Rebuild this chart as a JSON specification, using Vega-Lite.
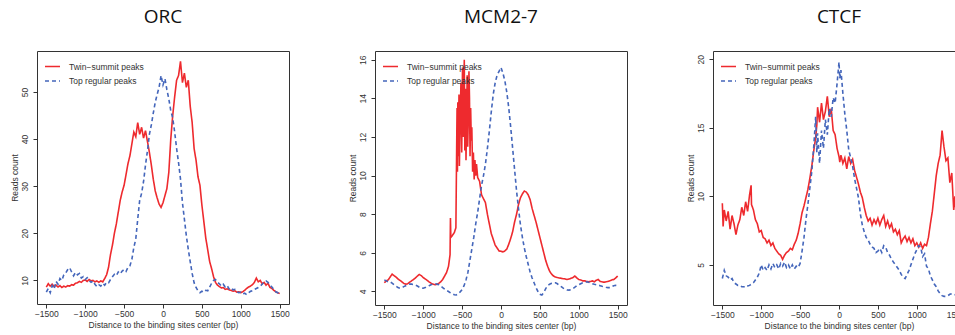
{
"$schema": "https://vega.github.io/schema/vega-lite/v6.json",
"padding": {"left": 9, "top": 7, "right": 0, "bottom": 0},
"spacing": 57,
"config": {
 "view": {"stroke": "#333", "strokeWidth": 1},
 "font": "Liberation Sans",
 "axis": {"domain": false, "grid": false, "tickColor": "#333", "tickSize": 4, "tickWidth": 1, "labelFont": "Liberation Sans", "labelFontSize": 8.5, "labelColor": "#333", "titleFont": "Liberation Sans", "titleFontSize": 8.5, "titleFontWeight": "normal", "titleColor": "#333", "labelFlush": false},
 "axisX": {"labelPadding": 1, "titlePadding": 3, "format": "d"},
 "axisY": {"labelAngle": -90, "labelAlign": "center", "labelBaseline": "bottom", "labelPadding": 4, "titlePadding": 1},
 "title": {"font": "Open Sans", "fontSize": 19, "fontWeight": "normal", "color": "#111", "frame": "group", "anchor": "middle", "offset": 24},
 "legend": {"orient": "top-left", "offset": 7, "padding": 0, "labelFont": "Liberation Sans", "labelFontSize": 8.5, "labelColor": "#333", "symbolType": "stroke", "symbolSize": 225, "symbolStrokeWidth": 1.5, "labelOffset": 8, "rowPadding": 1.5}
},
"resolve": {"scale": {"color": "independent", "strokeDash": "independent", "x": "independent", "y": "independent"}, "legend": {"color": "independent", "strokeDash": "independent"}},
"hconcat": [
{
 "title": "ORC",
 "width": 252, "height": 253,
 "data": {"values": [
{"x":-1500,"a":8.6,"b":7.5},{"x":-1475,"a":9.3,"b":8.3},{"x":-1450,"a":8.8,"b":7.4},{"x":-1425,"a":9.2,"b":8.9},{"x":-1400,"a":8.7,"b":8.2},{"x":-1375,"a":9.0,"b":9.8},{"x":-1350,"a":8.6,"b":9.2},{"x":-1325,"a":8.9,"b":10.4},{"x":-1300,"a":8.5,"b":10.0},{"x":-1275,"a":8.8,"b":11.2},{"x":-1250,"a":8.6,"b":11.6},{"x":-1225,"a":8.9,"b":12.3},{"x":-1200,"a":8.8,"b":12.7},{"x":-1175,"a":9.1,"b":11.8},{"x":-1150,"a":9.0,"b":11.0},{"x":-1125,"a":9.4,"b":11.7},{"x":-1100,"a":9.5,"b":11.2},{"x":-1075,"a":9.8,"b":11.5},{"x":-1050,"a":9.6,"b":10.5},{"x":-1025,"a":10.0,"b":10.8},{"x":-1000,"a":10.1,"b":10.2},{"x":-975,"a":9.8,"b":10.6},{"x":-950,"a":10.2,"b":10.0},{"x":-925,"a":9.9,"b":9.6},{"x":-900,"a":10.0,"b":9.9},{"x":-875,"a":9.7,"b":9.2},{"x":-850,"a":9.9,"b":8.7},{"x":-825,"a":9.6,"b":9.1},{"x":-800,"a":9.9,"b":8.8},{"x":-775,"a":9.7,"b":9.4},{"x":-750,"a":10.4,"b":9.0},{"x":-725,"a":11.2,"b":9.6},{"x":-700,"a":12.8,"b":9.5},{"x":-675,"a":15.5,"b":10.2},{"x":-650,"a":17.5,"b":10.8},{"x":-625,"a":20.0,"b":11.3},{"x":-600,"a":22.0,"b":11.0},{"x":-575,"a":24.5,"b":11.8},{"x":-550,"a":27.0,"b":11.4},{"x":-525,"a":28.8,"b":12.0},{"x":-500,"a":30.2,"b":12.3},{"x":-475,"a":32.5,"b":11.9},{"x":-450,"a":34.8,"b":12.8},{"x":-425,"a":36.5,"b":13.1},{"x":-400,"a":39.0,"b":14.5},{"x":-375,"a":41.5,"b":17.0},{"x":-350,"a":40.5,"b":18.8},{"x":-325,"a":43.5,"b":23.0},{"x":-300,"a":41.0,"b":27.0},{"x":-275,"a":42.5,"b":28.5},{"x":-250,"a":40.2,"b":31.0},{"x":-225,"a":41.8,"b":34.5},{"x":-200,"a":39.5,"b":37.5},{"x":-175,"a":37.2,"b":41.0},{"x":-150,"a":34.5,"b":43.0},{"x":-125,"a":31.5,"b":45.5},{"x":-100,"a":29.0,"b":47.8},{"x":-75,"a":27.5,"b":49.5},{"x":-50,"a":26.2,"b":51.0},{"x":-25,"a":25.5,"b":53.5},{"x":0,"a":26.5,"b":51.5},{"x":25,"a":28.0,"b":52.8},{"x":50,"a":29.5,"b":50.5},{"x":75,"a":33.0,"b":48.5},{"x":100,"a":40.0,"b":46.0},{"x":125,"a":45.0,"b":44.5},{"x":150,"a":49.0,"b":41.5},{"x":175,"a":52.5,"b":38.0},{"x":200,"a":53.5,"b":35.0},{"x":225,"a":56.5,"b":31.5},{"x":250,"a":52.0,"b":26.5},{"x":275,"a":54.0,"b":23.0},{"x":300,"a":51.0,"b":19.5},{"x":325,"a":52.5,"b":16.6},{"x":350,"a":47.0,"b":14.0},{"x":375,"a":43.5,"b":11.5},{"x":400,"a":38.0,"b":9.5},{"x":425,"a":35.5,"b":8.5},{"x":450,"a":32.0,"b":7.8},{"x":475,"a":30.2,"b":7.4},{"x":500,"a":26.0,"b":7.7},{"x":525,"a":22.5,"b":7.5},{"x":550,"a":19.0,"b":7.9},{"x":575,"a":16.5,"b":7.8},{"x":600,"a":14.0,"b":8.6},{"x":625,"a":12.5,"b":9.4},{"x":650,"a":10.8,"b":10.0},{"x":675,"a":9.6,"b":10.2},{"x":700,"a":9.0,"b":9.6},{"x":725,"a":8.7,"b":9.3},{"x":750,"a":8.4,"b":8.8},{"x":775,"a":8.5,"b":9.2},{"x":800,"a":8.1,"b":8.6},{"x":825,"a":8.2,"b":8.9},{"x":850,"a":8.0,"b":8.2},{"x":875,"a":7.9,"b":8.5},{"x":900,"a":7.7,"b":8.0},{"x":925,"a":7.8,"b":8.1},{"x":950,"a":7.5,"b":7.6},{"x":975,"a":7.6,"b":7.4},{"x":1000,"a":7.4,"b":7.5},{"x":1025,"a":7.6,"b":7.1},{"x":1050,"a":7.9,"b":7.3},{"x":1075,"a":8.3,"b":7.0},{"x":1100,"a":8.6,"b":7.4},{"x":1125,"a":8.8,"b":7.7},{"x":1150,"a":9.1,"b":7.8},{"x":1175,"a":9.6,"b":8.1},{"x":1200,"a":10.5,"b":8.3},{"x":1225,"a":9.7,"b":8.5},{"x":1250,"a":10.0,"b":8.8},{"x":1275,"a":9.3,"b":9.2},{"x":1300,"a":9.6,"b":9.7},{"x":1325,"a":9.0,"b":9.9},{"x":1350,"a":9.4,"b":9.6},{"x":1375,"a":8.5,"b":9.0},{"x":1400,"a":8.3,"b":8.6},{"x":1425,"a":7.9,"b":8.1},{"x":1450,"a":7.6,"b":7.6},{"x":1475,"a":7.4,"b":7.4},{"x":1500,"a":7.2,"b":7.1}
 ]},
 "transform": [{"fold": ["a", "b"], "as": ["s", "y"]}],
 "mark": {"type": "line", "strokeWidth": 1.6, "invalid": "filter"},
 "encoding": {
  "x": {"field": "x", "type": "quantitative", "scale": {"domain": [-1620, 1620], "nice": false}, "axis": {"values": [-1500, -1000, -500, 0, 500, 1000, 1500], "title": "Distance to the binding sites center (bp)"}},
  "y": {"field": "y", "type": "quantitative", "scale": {"domain": [5, 58.7], "nice": false, "zero": false}, "axis": {"values": [10, 20, 30, 40, 50], "title": "Reads count"}},
  "color": {"field": "s", "type": "nominal", "scale": {"domain": ["a", "b"], "range": ["#ee2a2e", "#4466bb"]}, "legend": {"title": null, "labelExpr": "datum.label == 'a' ? 'Twin−summit peaks' : 'Top regular peaks'"}},
  "strokeDash": {"field": "s", "type": "nominal", "scale": {"domain": ["a", "b"], "range": [[1, 0], [4, 3]]}, "legend": {"title": null, "labelExpr": "datum.label == 'a' ? 'Twin−summit peaks' : 'Top regular peaks'"}}
 }
},
{
 "title": "MCM2-7",
 "width": 252, "height": 254,
 "data": {"values": [
{"x":-1500,"a":4.45,"b":4.6},{"x":-1475,"a":4.55,"b":4.55},{"x":-1450,"a":4.6,"b":4.5},{"x":-1425,"a":4.75,"b":4.5},{"x":-1400,"a":4.9,"b":4.43},{"x":-1375,"a":4.82,"b":4.35},{"x":-1350,"a":4.75,"b":4.28},{"x":-1325,"a":4.65,"b":4.2},{"x":-1300,"a":4.58,"b":4.17},{"x":-1275,"a":4.5,"b":4.2},{"x":-1250,"a":4.42,"b":4.25},{"x":-1225,"a":4.38,"b":4.3},{"x":-1200,"a":4.4,"b":4.35},{"x":-1175,"a":4.48,"b":4.38},{"x":-1150,"a":4.55,"b":4.38},{"x":-1125,"a":4.62,"b":4.36},{"x":-1100,"a":4.7,"b":4.33},{"x":-1075,"a":4.8,"b":4.28},{"x":-1050,"a":4.88,"b":4.22},{"x":-1025,"a":4.82,"b":4.18},{"x":-1000,"a":4.72,"b":4.17},{"x":-975,"a":4.65,"b":4.2},{"x":-950,"a":4.58,"b":4.25},{"x":-925,"a":4.5,"b":4.3},{"x":-900,"a":4.43,"b":4.35},{"x":-875,"a":4.38,"b":4.38},{"x":-850,"a":4.35,"b":4.4},{"x":-825,"a":4.37,"b":4.38},{"x":-800,"a":4.42,"b":4.35},{"x":-775,"a":4.5,"b":4.28},{"x":-750,"a":4.62,"b":4.2},{"x":-725,"a":4.8,"b":4.12},{"x":-700,"a":4.98,"b":4.05},{"x":-675,"a":5.3,"b":4.0},{"x":-655,"a":5.9},{"x":-650,"a":7.8,"b":3.93},{"x":-645,"a":6.8},{"x":-625,"a":6.9,"b":3.88},{"x":-600,"a":7.05,"b":3.83},{"x":-580,"a":7.3},{"x":-575,"b":3.82},{"x":-570,"a":11.5},{"x":-565,"a":13.5},{"x":-560,"a":10.2},{"x":-555,"a":13.8},{"x":-550,"a":11.0,"b":3.88},{"x":-540,"a":14.2},{"x":-535,"a":10.5},{"x":-525,"a":13.0,"b":3.98},{"x":-515,"a":14.8},{"x":-505,"a":11.2},{"x":-500,"b":4.1},{"x":-495,"a":15.6},{"x":-487,"a":12.0},{"x":-480,"a":14.2},{"x":-475,"b":4.3},{"x":-472,"a":16.0},{"x":-465,"a":11.3},{"x":-458,"a":14.5},{"x":-450,"a":10.8,"b":4.6},{"x":-442,"a":12.8},{"x":-435,"a":15.2},{"x":-428,"a":11.5},{"x":-425,"b":5.0},{"x":-420,"a":13.0},{"x":-412,"a":15.4},{"x":-405,"a":14.0},{"x":-400,"b":5.6},{"x":-398,"a":11.0},{"x":-390,"a":13.5},{"x":-382,"a":11.8},{"x":-375,"a":12.5,"b":6.2},{"x":-365,"a":10.2},{"x":-355,"a":11.2},{"x":-350,"b":6.8},{"x":-345,"a":9.8},{"x":-335,"a":10.8},{"x":-325,"a":10.0,"b":7.5},{"x":-315,"a":10.6},{"x":-300,"a":9.9,"b":8.1},{"x":-275,"a":9.7,"b":8.8},{"x":-250,"a":9.0,"b":9.5},{"x":-225,"a":8.8,"b":10.0},{"x":-200,"a":8.6,"b":10.6},{"x":-175,"a":8.0,"b":11.4},{"x":-150,"a":7.5,"b":12.3},{"x":-125,"a":7.0,"b":13.3},{"x":-100,"a":6.7,"b":14.2},{"x":-75,"a":6.4,"b":14.8},{"x":-50,"a":6.25,"b":15.2},{"x":-25,"a":6.1,"b":15.4},{"x":0,"a":6.08,"b":15.6},{"x":25,"a":6.05,"b":15.3},{"x":50,"a":6.1,"b":14.9},{"x":75,"a":6.2,"b":14.3},{"x":100,"a":6.45,"b":13.5},{"x":125,"a":6.75,"b":12.5},{"x":150,"a":7.1,"b":11.4},{"x":175,"a":7.6,"b":10.3},{"x":200,"a":8.0,"b":9.2},{"x":225,"a":8.5,"b":8.3},{"x":250,"a":8.85,"b":7.45},{"x":275,"a":9.05,"b":6.8},{"x":300,"a":9.2,"b":6.25},{"x":325,"a":9.15,"b":5.8},{"x":350,"a":9.0,"b":5.4},{"x":375,"a":8.75,"b":5.0},{"x":400,"a":8.3,"b":4.7},{"x":425,"a":7.95,"b":4.45},{"x":450,"a":7.6,"b":4.2},{"x":475,"a":7.2,"b":4.0},{"x":500,"a":6.8,"b":3.85},{"x":525,"a":6.4,"b":3.82},{"x":550,"a":6.0,"b":3.95},{"x":575,"a":5.6,"b":4.15},{"x":600,"a":5.3,"b":4.3},{"x":625,"a":5.05,"b":4.38},{"x":650,"a":4.9,"b":4.42},{"x":675,"a":4.8,"b":4.45},{"x":700,"a":4.75,"b":4.45},{"x":725,"a":4.72,"b":4.4},{"x":750,"a":4.7,"b":4.32},{"x":775,"a":4.68,"b":4.25},{"x":800,"a":4.66,"b":4.17},{"x":825,"a":4.65,"b":4.12},{"x":850,"a":4.62,"b":4.08},{"x":875,"a":4.65,"b":4.07},{"x":900,"a":4.68,"b":4.1},{"x":925,"a":4.72,"b":4.15},{"x":950,"a":4.8,"b":4.22},{"x":975,"a":4.7,"b":4.3},{"x":1000,"a":4.62,"b":4.35},{"x":1025,"a":4.6,"b":4.4},{"x":1050,"a":4.55,"b":4.45},{"x":1075,"a":4.55,"b":4.48},{"x":1100,"a":4.52,"b":4.5},{"x":1125,"a":4.5,"b":4.48},{"x":1150,"a":4.52,"b":4.45},{"x":1175,"a":4.55,"b":4.4},{"x":1200,"a":4.5,"b":4.37},{"x":1225,"a":4.58,"b":4.35},{"x":1250,"a":4.62,"b":4.33},{"x":1275,"a":4.52,"b":4.3},{"x":1300,"a":4.5,"b":4.27},{"x":1325,"a":4.48,"b":4.25},{"x":1350,"a":4.5,"b":4.22},{"x":1375,"a":4.52,"b":4.2},{"x":1400,"a":4.55,"b":4.2},{"x":1425,"a":4.6,"b":4.25},{"x":1450,"a":4.62,"b":4.3},{"x":1475,"a":4.7,"b":4.32},{"x":1500,"a":4.8,"b":4.3}
 ]},
 "transform": [{"fold": ["a", "b"], "as": ["s", "y"]}],
 "mark": {"type": "line", "strokeWidth": 1.6, "invalid": "filter"},
 "encoding": {
  "x": {"field": "x", "type": "quantitative", "scale": {"domain": [-1620, 1620], "nice": false}, "axis": {"values": [-1500, -1000, -500, 0, 500, 1000, 1500], "title": "Distance to the binding sites center (bp)"}},
  "y": {"field": "y", "type": "quantitative", "scale": {"domain": [3.3, 16.45], "nice": false, "zero": false}, "axis": {"values": [4, 6, 8, 10, 12, 14, 16], "title": "Reads count"}},
  "color": {"field": "s", "type": "nominal", "scale": {"domain": ["a", "b"], "range": ["#ee2a2e", "#4466bb"]}, "legend": {"title": null, "labelExpr": "datum.label == 'a' ? 'Twin−summit peaks' : 'Top regular peaks'"}},
  "strokeDash": {"field": "s", "type": "nominal", "scale": {"domain": ["a", "b"], "range": [[1, 0], [4, 3]]}, "legend": {"title": null, "labelExpr": "datum.label == 'a' ? 'Twin−summit peaks' : 'Top regular peaks'"}}
 }
},
{
 "title": "CTCF",
 "width": 252, "height": 254,
 "data": {"values": [
{"x":-1500,"a":9.5,"b":4.0},{"x":-1490,"a":7.8},{"x":-1475,"a":9.0,"b":4.6},{"x":-1450,"a":8.2,"b":4.2},{"x":-1425,"a":8.9,"b":4.1},{"x":-1400,"a":7.6,"b":3.9},{"x":-1375,"a":8.6,"b":4.0},{"x":-1350,"a":8.0,"b":3.7},{"x":-1325,"a":7.2,"b":3.6},{"x":-1300,"a":7.9,"b":3.5},{"x":-1275,"a":8.3,"b":3.5},{"x":-1250,"a":9.2,"b":3.4},{"x":-1225,"a":8.6,"b":3.4},{"x":-1200,"a":9.6,"b":3.35},{"x":-1175,"a":8.9,"b":3.45},{"x":-1150,"a":10.1,"b":3.5},{"x":-1130,"a":10.8},{"x":-1125,"a":9.4,"b":3.6},{"x":-1100,"a":9.0,"b":3.7},{"x":-1075,"a":8.3,"b":3.9},{"x":-1050,"a":8.0,"b":4.1},{"x":-1025,"a":7.4,"b":4.4},{"x":-1000,"a":7.5,"b":5.0},{"x":-975,"a":7.0,"b":4.6},{"x":-950,"a":6.9,"b":4.8},{"x":-925,"a":6.6,"b":4.6},{"x":-900,"a":6.8,"b":5.0},{"x":-875,"a":6.4,"b":4.7},{"x":-850,"a":6.6,"b":5.1},{"x":-825,"a":6.2,"b":4.8},{"x":-800,"a":6.0,"b":5.0},{"x":-775,"a":5.8,"b":4.7},{"x":-750,"a":5.7,"b":5.1},{"x":-725,"a":5.4,"b":4.9},{"x":-700,"a":5.7,"b":5.2},{"x":-675,"a":5.9,"b":4.8},{"x":-650,"a":6.0,"b":5.0},{"x":-625,"a":6.2,"b":4.7},{"x":-600,"a":6.1,"b":5.0},{"x":-575,"a":6.5,"b":4.7},{"x":-550,"a":6.8,"b":4.9},{"x":-525,"a":7.3,"b":4.8},{"x":-500,"a":8.0,"b":5.1},{"x":-475,"a":8.8,"b":6.0},{"x":-450,"a":9.3,"b":7.0},{"x":-425,"a":9.9,"b":8.3},{"x":-400,"a":10.5,"b":9.4},{"x":-375,"a":11.3,"b":10.6},{"x":-350,"a":12.2,"b":11.8},{"x":-325,"a":13.3,"b":13.6},{"x":-300,"a":14.3,"b":15.8},{"x":-285,"a":15.2,"b":13.2},{"x":-275,"a":16.5,"b":14.6},{"x":-250,"a":15.4,"b":12.4},{"x":-225,"a":16.8,"b":14.8},{"x":-200,"a":15.6,"b":13.5},{"x":-175,"a":16.2,"b":15.6},{"x":-150,"a":17.3,"b":14.5},{"x":-125,"a":15.8,"b":16.4},{"x":-100,"a":16.4,"b":15.8},{"x":-75,"a":14.8,"b":17.2},{"x":-50,"a":14.5,"b":16.8},{"x":-25,"a":13.5,"b":18.2},{"x":0,"a":12.9,"b":19.8},{"x":10,"a":12.5,"b":18.6},{"x":25,"a":13.0,"b":19.2},{"x":50,"a":12.4,"b":17.5},{"x":75,"a":12.8,"b":16.0},{"x":100,"a":12.0,"b":14.8},{"x":125,"a":12.9,"b":13.4},{"x":150,"a":12.4,"b":12.8},{"x":175,"a":12.7,"b":12.2},{"x":200,"a":11.9,"b":11.3},{"x":225,"a":11.4,"b":10.6},{"x":250,"a":10.9,"b":9.9},{"x":275,"a":10.3,"b":8.7},{"x":300,"a":9.9,"b":7.9},{"x":325,"a":9.2,"b":7.4},{"x":350,"a":8.6,"b":7.0},{"x":375,"a":8.2,"b":6.8},{"x":400,"a":8.4,"b":6.5},{"x":425,"a":7.9,"b":6.3},{"x":450,"a":8.3,"b":6.2},{"x":475,"a":8.0,"b":5.9},{"x":500,"a":8.4,"b":6.0},{"x":525,"a":7.9,"b":6.2},{"x":550,"a":8.3,"b":5.9},{"x":575,"a":8.6,"b":6.4},{"x":600,"a":7.8,"b":6.3},{"x":625,"a":8.2,"b":5.9},{"x":650,"a":7.7,"b":5.7},{"x":675,"a":8.0,"b":5.4},{"x":700,"a":7.4,"b":5.2},{"x":725,"a":7.6,"b":5.0},{"x":750,"a":7.2,"b":4.8},{"x":775,"a":7.5,"b":4.6},{"x":800,"a":6.6,"b":4.3},{"x":825,"a":6.9,"b":4.1},{"x":850,"a":7.1,"b":4.0},{"x":875,"a":6.7,"b":4.3},{"x":900,"a":7.0,"b":4.6},{"x":925,"a":6.6,"b":5.0},{"x":950,"a":6.9,"b":5.4},{"x":975,"a":6.4,"b":5.8},{"x":1000,"a":6.6,"b":6.1},{"x":1025,"a":6.3,"b":6.4},{"x":1050,"a":6.6,"b":6.3},{"x":1075,"a":6.2,"b":5.6},{"x":1100,"a":6.5,"b":5.8},{"x":1125,"a":6.4,"b":4.9},{"x":1150,"a":7.0,"b":4.7},{"x":1175,"a":8.0,"b":4.2},{"x":1200,"a":8.9,"b":3.9},{"x":1225,"a":10.2,"b":3.6},{"x":1250,"a":11.5,"b":3.4},{"x":1275,"a":12.4,"b":3.1},{"x":1300,"a":13.0,"b":2.9},{"x":1325,"a":14.8,"b":2.75},{"x":1350,"a":13.6,"b":2.7},{"x":1375,"a":12.6,"b":2.7},{"x":1400,"a":12.8,"b":2.75},{"x":1425,"a":11.0,"b":2.85},{"x":1450,"a":11.7,"b":2.9},{"x":1475,"a":9.0,"b":2.85},{"x":1490,"a":10.0},{"x":1500,"a":9.2,"b":2.8}
 ]},
 "transform": [{"fold": ["a", "b"], "as": ["s", "y"]}],
 "mark": {"type": "line", "strokeWidth": 1.6, "invalid": "filter"},
 "encoding": {
  "x": {"field": "x", "type": "quantitative", "scale": {"domain": [-1620, 1620], "nice": false}, "axis": {"values": [-1500, -1000, -500, 0, 500, 1000, 1500], "title": "Distance to the binding sites center (bp)"}},
  "y": {"field": "y", "type": "quantitative", "scale": {"domain": [2.07, 20.6], "nice": false, "zero": false}, "axis": {"values": [5, 10, 15, 20], "title": "Reads count"}},
  "color": {"field": "s", "type": "nominal", "scale": {"domain": ["a", "b"], "range": ["#ee2a2e", "#4466bb"]}, "legend": {"title": null, "labelExpr": "datum.label == 'a' ? 'Twin−summit peaks' : 'Top regular peaks'"}},
  "strokeDash": {"field": "s", "type": "nominal", "scale": {"domain": ["a", "b"], "range": [[1, 0], [4, 3]]}, "legend": {"title": null, "labelExpr": "datum.label == 'a' ? 'Twin−summit peaks' : 'Top regular peaks'"}}
 }
}
]
}
